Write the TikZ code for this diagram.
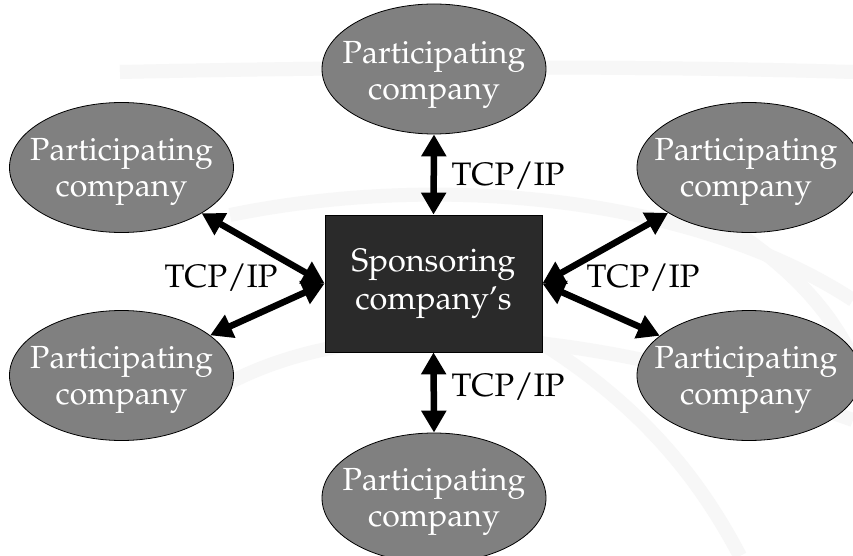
\documentclass[tikz,border=0pt]{standalone}
\usepackage[T1]{fontenc}
\usepackage{mathpazo}
\usetikzlibrary{shapes.geometric,arrows.meta}
\definecolor{partgray}{HTML}{808080}
\definecolor{boxgray}{HTML}{2A2A2A}
\definecolor{bgarc}{HTML}{F7F7F7}
\begin{document}
\begin{tikzpicture}[x=1pt,y=-1pt,
  part/.style={ellipse, draw=black, line width=0.8pt, fill=partgray,
    minimum width=224pt, minimum height=130pt, inner xsep=-40pt, inner ysep=0pt},
  parttext/.style={text=white, align=center, inner sep=0pt,
    font=\fontsize{32}{36}\selectfont},
  sponsor/.style={draw=black, line width=0.8pt, fill=boxgray, text=white,
    minimum width=217pt, minimum height=137pt, align=center,
    font=\fontsize{32.5}{38}\selectfont},
  lbl/.style={text=black, inner sep=0pt, font=\fontsize{32.5}{36}\selectfont},
  link/.style={line width=6.5pt,
    {Triangle[width=24pt,length=22pt]}-{Triangle[width=24pt,length=22pt]}},
  bgline/.style={draw=bgarc, line width=14pt}
]
\useasboundingbox (0,0) rectangle (853,556);
\fill[white] (0,0) rectangle (853,556);
% faint background arcs
\draw[bgline] (120,72) .. controls (400,66) and (650,66) .. (853,72);
\draw[bgline] (230,215) .. controls (450,170) and (700,200) .. (853,300);
\draw[bgline] (200,400) .. controls (350,300) and (600,330) .. (853,420);
\draw[bgline] (520,330) .. controls (640,400) and (700,480) .. (740,556);
\draw[bgline] (680,200) .. controls (800,260) and (840,330) .. (853,360);

% nodes
\node[sponsor] (s) at (433.5,283.5) {Sponsoring\\company's};

\node[part] (t)  at (434,69) {};
\node[part] (lu) at (121.5,167.5) {};
\node[part] (ll) at (121.5,375.5) {};
\node[part] (ru) at (749,167.5) {};
\node[part] (rl) at (749,375.5) {};
\node[part] (b)  at (434,498) {};

\node[parttext] (tt)  at ([yshift=-6pt]t.center)  {Participating\\company};
\node[parttext] (lut) at ([yshift=-4pt]lu.center) {Participating\\company};
\node[parttext] (llt) at ([yshift=-4pt]ll.center) {Participating\\company};
\node[parttext] (rut) at ([yshift=-4pt,xshift=-3pt]ru.center) {Participating\\company};
\node[parttext] (rlt) at ([yshift=-4pt,xshift=-3pt]rl.center) {Participating\\company};
\node[parttext] (bt)  at ([yshift=-4pt]b.center)  {Participating\\company};

% connectors
\draw[link] (t.south) -- (s.north);
\draw[link] (s.south) -- (b.north);
\draw[link] (lu) -- (s.west);
\draw[link] (ll) -- (s.west);
\draw[link] (ru) -- (s.east);
\draw[link] (rl) -- (s.east);

% labels
\node[lbl] (l1) at (508,176) {TCP/IP};
\node[lbl] (l2) at (508,387) {TCP/IP};
\node[lbl] (l3) at (221,278) {TCP/IP};
\node[lbl] (l4) at (643,278) {TCP/IP};
\end{tikzpicture}
\end{document}
